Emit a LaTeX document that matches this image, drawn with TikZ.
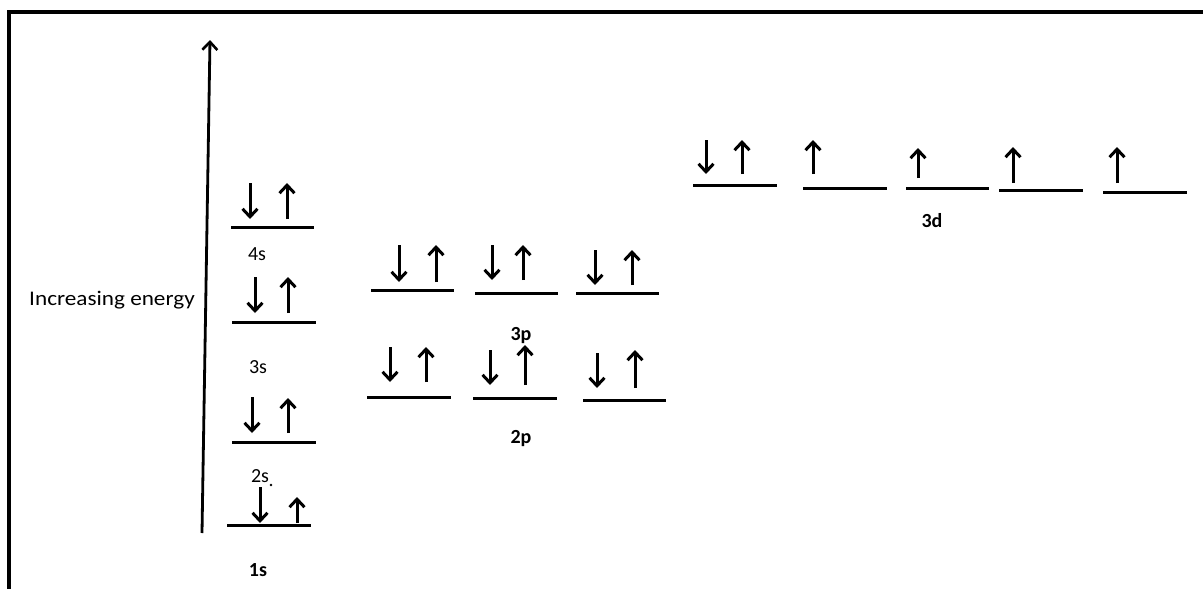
\documentclass[tikz,border=0pt]{standalone}
\usepackage{fontspec}
\setmainfont{Carlito}
\usetikzlibrary{arrows.meta}

% one energy level: named end coordinates and the bar between them
\newcommand\drawlevel[4]{%
  \coordinate (#1-l) at (#2,#4);
  \coordinate (#1-r) at (#3,#4);
  \draw[levelbar] (#1-l) -- (#1-r);}
% spin arrows: x, top, bottom
\newcommand\spinup[3]{\draw[spin] (#1,#3) -- (#1,#2);}
\newcommand\spindown[3]{\draw[spin] (#1,#2) -- (#1,#3);}

\begin{document}
\begin{tikzpicture}[x=1pt,y=-1pt,
  levelbar/.style={line width=3pt},
  spin/.style={line width=3pt,-{Straight Barb[length=8pt,width=15pt,line width=3pt]}},
  axisline/.style={line width=2.8pt,-{Straight Barb[length=8pt,width=15pt,line width=2.6pt]}},
  lbl/.style={font=\fontsize{20}{24}\selectfont, text=black, inner sep=0pt, anchor=base},
  lblb/.style={lbl, font=\fontsize{20}{24}\selectfont\bfseries}]
\useasboundingbox (0,0) rectangle (1203,589);

% frame
\draw[line width=4.5pt] (9,589) -- (9,12) -- (1203,12);

% energy axis
\coordinate (ebot) at (202,533);
\coordinate (etop) at (210,40);
\draw[axisline] (ebot) -- (etop);
\node[lbl, anchor=center] (energy) at (112,300) {\scalebox{1.16}[1.04]{Increasing energy}};

% s levels
\drawlevel{s1}{227}{311}{525}
\spindown{260}{487}{523}\spinup{297}{497}{523}
\drawlevel{s2}{232}{316}{442}
\spindown{252}{397}{433}\spinup{288}{398}{433}
\drawlevel{s3}{232}{316}{322}
\spindown{255}{277}{313}\spinup{288}{277}{313}
\drawlevel{s4}{231}{314}{227}
\spindown{250}{183}{219}\spinup{287}{183}{219}

% 3p levels
\drawlevel{pa}{371}{454}{290}
\spindown{399}{245}{282}\spinup{436}{245}{282}
\drawlevel{pb}{475}{558}{293}
\spindown{492}{245}{280}\spinup{523}{245}{280}
\drawlevel{pc}{576}{659}{293}
\spindown{595}{250}{285}\spinup{632}{250}{285}

% 2p levels
\drawlevel{qa}{367}{451}{397}
\spindown{390}{347}{382}\spinup{426}{347}{382}
\drawlevel{qb}{473}{557}{398}
\spindown{490}{350}{385}\spinup{525}{345}{385}
\drawlevel{qc}{583}{666}{400}
\spindown{597}{353}{388}\spinup{635}{350}{388}

% 3d levels
\drawlevel{da}{693}{777}{185}
\spindown{706}{140}{174}\spinup{742}{140}{174}
\drawlevel{db}{803}{887}{188}
\spinup{813}{140}{174}
\drawlevel{dc}{906}{989}{188}
\spinup{918}{148}{178}
\drawlevel{dd}{999}{1083}{190}
\spinup{1013}{147}{183}
\drawlevel{de}{1103}{1187}{192}
\spinup{1117}{147}{183}

% labels
\node[lbl]  (l4s) at (257,260) {4s};
\node[lbl]  (l3s) at (258,373) {3s};
\node[lbl]  (l2s) at (260,482) {2s};
\fill (271,485) circle (1.3);
\node[lblb] (l1s) at (258,576) {1s};
\node[lblb] (l3p) at (521,340) {3p};
\node[lblb] (l2p) at (521,443) {2p};
\node[lblb] (l3d) at (932,227) {3d};
\end{tikzpicture}
\end{document}
